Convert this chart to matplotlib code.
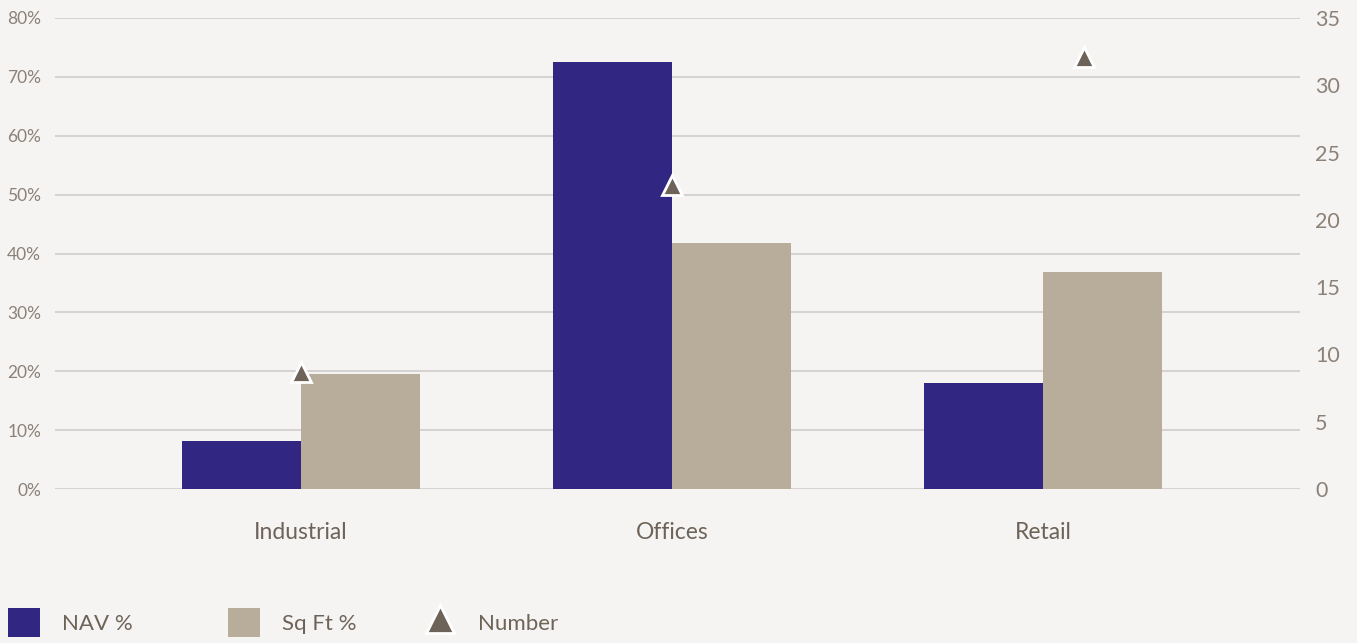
import matplotlib
matplotlib.use("Agg")
import matplotlib.pyplot as plt
import numpy as np
from matplotlib.patches import Patch
from matplotlib.lines import Line2D

# ---- data -----------------------------------------------------------------
categories = ["Industrial", "Offices", "Retail"]
nav_pct = [8.2, 72.5, 18.0]
sqft_pct = [19.5, 41.8, 36.8]
number = [8.7, 22.6, 32.1]
number_shift = [0.0, 0.0, 0.11]   # triangle sits right of centre for Retail

pct_ticks = list(range(0, 81, 10))
num_ticks = list(range(0, 36, 5))
legend_labels = ["NAV %", "Sq Ft %", "Number"]

# ---- style ----------------------------------------------------------------
BG = "#f5f4f2"
NAV_C = "#312782"
SQFT_C = "#b8ad9a"
NUM_C = "#6e6358"
GRID_C = "#cfcccb"
TICK_C = "#8c8178"
LABEL_C = "#6e6358"
plt.rcParams["font.family"] = ["Lato", "DejaVu Sans"]

fig = plt.figure(figsize=(13.57, 6.43), dpi=100, facecolor=BG)
ax = fig.add_axes([55 / 1357, 1 - 489 / 643, 1245 / 1357, 471 / 643])
ax.set_facecolor(BG)

x = np.arange(len(categories))
w = 0.32
ax.bar(x - w / 2, nav_pct, width=w, color=NAV_C, zorder=2)
ax.bar(x + w / 2, sqft_pct, width=w, color=SQFT_C, zorder=2)

ax.set_ylim(0, 80)
ax.set_yticks(pct_ticks)
ax.set_yticklabels([f"{t}%" for t in pct_ticks])
ax.set_xlim(-0.663, 2.693)
ax.set_xticks(x)
ax.set_xticklabels(categories)
ax.grid(axis="y", color=GRID_C, lw=1.2, zorder=0)
for s in ax.spines.values():
    s.set_visible(False)
ax.tick_params(axis="y", length=0, pad=10, labelsize=12.5, labelcolor=TICK_C)
ax.tick_params(axis="x", length=0, pad=24, labelsize=16.5, labelcolor=LABEL_C)

ax2 = ax.twinx()
ax2.set_ylim(0, 35)
ax2.set_yticks(num_ticks)
for s in ax2.spines.values():
    s.set_visible(False)
ax2.tick_params(axis="y", length=0, pad=11, labelsize=15.5, labelcolor=TICK_C)
ax2.plot(x + np.array(number_shift), number, linestyle="none", marker="^",
         markersize=14, color=NUM_C, markeredgecolor="white",
         markeredgewidth=2, zorder=5, clip_on=False)

# ---- legend (one entry each, placed like the original) -------------------
handles = [
    Patch(facecolor=NAV_C, edgecolor="none"),
    Patch(facecolor=SQFT_C, edgecolor="none"),
    Line2D([], [], linestyle="none", marker="^", markersize=20, color=NUM_C,
           markeredgecolor="white", markeredgewidth=2),
]
for h, lab, left in zip(handles, legend_labels, [8, 228, 424]):
    fig.legend([h], [lab], loc="lower left",
               bbox_to_anchor=(left / 1357, 6 / 643), frameon=False,
               fontsize=16, labelcolor=LABEL_C, handlelength=1.45,
               handleheight=1.6, handletextpad=1.0, borderpad=0,
               borderaxespad=0)

fig.savefig("out.png", dpi=100, facecolor=BG)
